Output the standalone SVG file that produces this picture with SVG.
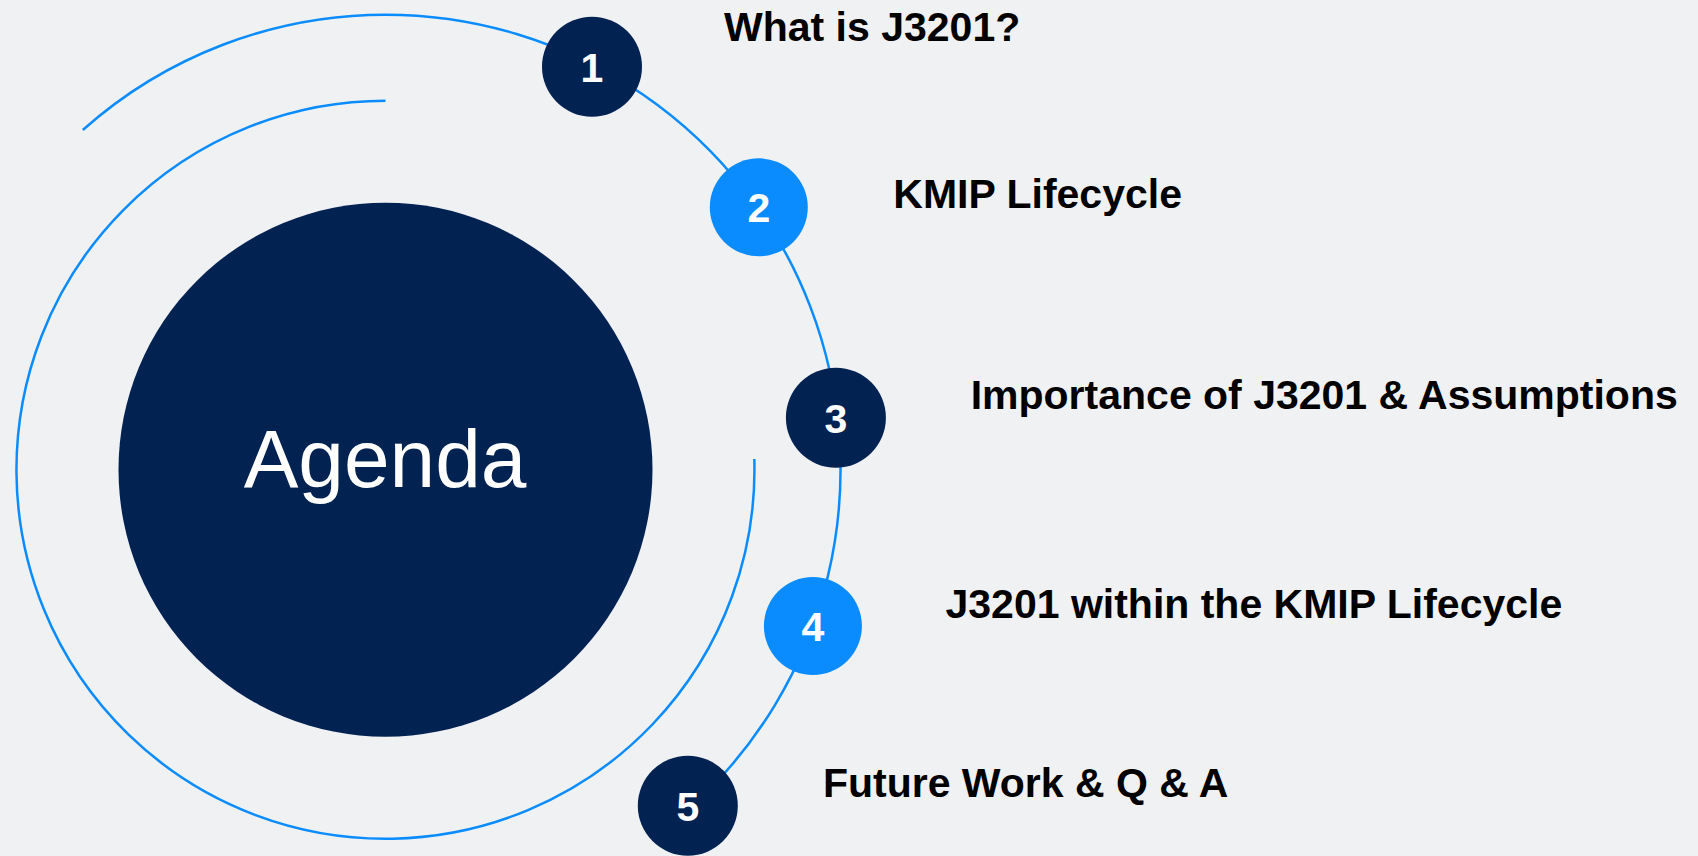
<svg xmlns="http://www.w3.org/2000/svg" width="1698" height="856" viewBox="0 0 1698 856">
  <style>
    .orbit { fill: none; stroke: #0a8cff; stroke-width: 2.5; }
    .dark { fill: #022252; }
    .light { fill: #0a8cff; }
    .num { font-family: "Liberation Sans", Arial, sans-serif; font-weight: bold; font-size: 41px; fill: #ffffff; text-anchor: middle; }
    .label { font-family: "Liberation Sans", Arial, sans-serif; font-weight: bold; font-size: 41px; fill: #000000; }
    .title { font-family: "Liberation Sans", Arial, sans-serif; font-size: 82px; fill: #ffffff; text-anchor: middle; }
  </style>
  <rect width="1698" height="856" fill="#f0f1f3"/>

  <!-- orbit lines -->
  <g id="connectors">
    <path class="orbit" d="M 82.8 130 A 455 455 0 0 1 385.5 14.7 A 455 455 0 0 1 690 807.8"/>
    <path class="orbit" d="M 385.5 100.7 A 369 369 0 1 0 754.3 459"/>
  </g>

  <g id="agenda">
    <circle class="dark" cx="385.5" cy="469.7" r="267"/>
    <text class="title" x="385" y="487">Agenda</text>
  </g>

  <g id="item1">
    <circle class="dark" cx="592" cy="66.7" r="50"/>
    <text class="num" x="592" y="81.5">1</text>
    <text class="label" x="724" y="40.7">What is J3201?</text>
  </g>

  <g id="item2">
    <circle class="light" cx="758.8" cy="207.3" r="49"/>
    <text class="num" x="758.8" y="222">2</text>
    <text class="label" x="893.3" y="208.3">KMIP Lifecycle</text>
  </g>

  <g id="item3">
    <circle class="dark" cx="835.9" cy="417.7" r="50"/>
    <text class="num" x="835.9" y="432.5">3</text>
    <text class="label" x="970.7" y="409">Importance of J3201 &amp; Assumptions</text>
  </g>

  <g id="item4">
    <circle class="light" cx="812.9" cy="626" r="49"/>
    <text class="num" x="812.9" y="640.8">4</text>
    <text class="label" x="945.5" y="618.3">J3201 within the KMIP Lifecycle</text>
  </g>

  <g id="item5">
    <circle class="dark" cx="687.8" cy="805.7" r="50"/>
    <text class="num" x="687.8" y="820.5">5</text>
    <text class="label" x="822.9" y="796.7">Future Work &amp; Q &amp; A</text>
  </g>
</svg>
